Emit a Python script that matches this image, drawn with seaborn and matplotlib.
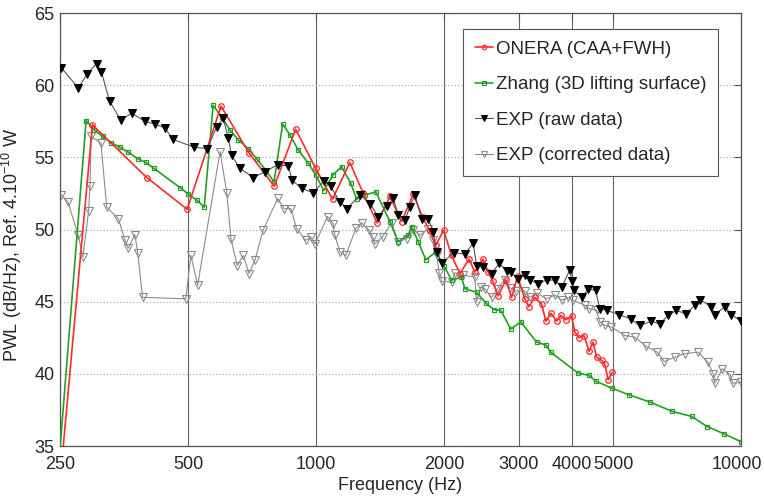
import matplotlib
matplotlib.use('Agg')
import matplotlib.pyplot as plt
import matplotlib.transforms as mtransforms
import seaborn as sns
from matplotlib.ticker import NullLocator

# ONERA (CAA+FWH)
onera_f = [250, 298, 400, 498, 598, 696, 798, 896, 998, 1094, 1202, 1292, 1394, 1493, 1591,
           1694, 1782, 1854, 1915, 1996, 2085, 2181, 2293, 2365, 2474, 2542, 2603, 2684, 2797, 2886,
           2981, 3100, 3170, 3270, 3394, 3475, 3570, 3681, 3769, 3872, 3994, 4065, 4161, 4275, 4390,
           4488, 4572, 4698, 4783, 4870, 4976]
onera_v = [32.5, 57.25, 53.6, 51.4, 58.55, 55.3, 53.0, 56.95, 54.25, 52.1, 54.65, 52.5, 50.45, 52.3, 50.55,
           52.45, 50.85, 49.9, 48.9, 49.95, 48.2, 46.95, 47.95, 47.05, 47.95, 47.05, 46.45, 45.4, 46.5, 45.3,
           46.75, 45.2, 44.65, 45.3, 44.85, 43.65, 44.2, 43.65, 44.05, 43.75, 44.0, 42.9, 42.5, 42.65, 41.55,
           42.2, 41.15, 40.95, 40.65, 39.6, 40.1]

# Zhang (3D lifting surface)
zhang_f = [250, 288, 301, 315, 330, 346, 362, 381, 398, 415, 479, 501, 524, 546, 573,
           600, 628, 657, 693, 726, 762, 797, 835, 869, 909, 959, 998, 1044, 1098, 1149,
           1208, 1247, 1304, 1384, 1493, 1561, 1648, 1679, 1740, 1814, 1915, 2000, 2085, 2200, 2241,
           2387, 2511, 2621, 2722, 2874, 3035, 3304, 3475, 3565, 4138, 4390, 4547, 4976, 5445, 6100,
           6886, 7650, 8322, 9112, 10000]
zhang_v = [34.8, 57.55, 56.9, 56.45, 56.0, 55.7, 55.35, 54.9, 54.65, 54.25, 52.9, 52.45, 52.05, 51.55, 58.6,
           57.8, 56.9, 56.2, 55.6, 54.9, 54.1, 53.3, 57.3, 56.55, 55.5, 54.6, 53.8, 52.7, 53.8, 54.35,
           53.2, 52.1, 52.4, 52.6, 50.55, 49.15, 49.6, 50.2, 49.15, 47.9, 48.45, 47.5, 46.5, 46.7, 45.9,
           45.65, 44.9, 44.45, 44.4, 43.1, 43.6, 42.2, 42.0, 41.5, 40.05, 39.9, 39.5, 39.0, 38.55, 38.05,
           37.4, 37.05, 36.35, 35.85, 35.3]

# EXP (raw data)
raw_f = [252, 276, 290, 305, 313, 327, 347, 369, 396, 418, 441, 460, 517, 555, 584,
         605, 622, 633, 662, 712, 759, 813, 861, 880, 925, 985, 1044, 1083, 1139, 1185,
         1269, 1340, 1401, 1466, 1520, 1561, 1620, 1663, 1709, 1773, 1837, 1887, 1923, 1978, 2110,
         2241, 2344, 2387, 2474, 2590, 2697, 2810, 2870, 2990, 3100, 3186, 3334, 3487, 3647, 3785,
         3957, 4010, 4045, 4216, 4369, 4547, 4656, 4826, 5170, 5506, 5780, 6157, 6440, 6737, 7050,
         7416, 7815, 8000, 8520, 8675, 9157, 9493, 10000]
raw_v = [61.2, 59.8, 60.8, 61.5, 60.9, 58.9, 57.6, 58.05, 57.5, 57.3, 57.05, 56.25, 55.7, 55.6, 57.1,
         57.7, 56.35, 55.15, 54.25, 53.6, 54.0, 54.5, 54.4, 53.4, 52.85, 52.55, 53.35, 53.0, 51.9, 51.45,
         52.4, 51.8, 50.9, 51.6, 52.15, 51.0, 50.65, 51.55, 52.4, 50.75, 50.75, 49.85, 48.45, 47.65, 48.4,
         48.3, 49.05, 47.5, 47.4, 46.95, 47.65, 47.15, 47.05, 46.6, 46.85, 46.5, 46.25, 46.5, 46.5, 46.0,
         47.2, 46.4, 45.8, 45.3, 45.85, 45.8, 44.5, 44.4, 44.1, 43.8, 43.35, 43.65, 43.45, 44.05, 44.4,
         44.15, 44.8, 45.15, 44.65, 44.1, 44.65, 44.1, 43.65]

# EXP (corrected data)
corr_f = [252, 261, 276, 283, 292, 294, 296, 312, 322, 343, 355, 362, 375, 381, 391,
          494, 508, 527, 595, 617, 631, 653, 675, 696, 719, 752, 813, 842, 873, 901,
          946, 973, 995, 1065, 1098, 1108, 1139, 1176, 1242, 1281, 1334, 1359, 1376, 1435, 1506,
          1561, 1634, 1694, 1756, 1837, 1887, 1923, 1950, 1978, 2085, 2123, 2214, 2365, 2387, 2440,
          2496, 2590, 2672, 2778, 2866, 2962, 3100, 3186, 3316, 3487, 3647, 3785, 3919, 4022, 4292,
          4400, 4572, 4656, 4783, 4950, 5337, 5620, 5985, 6355, 6600, 6980, 7370, 7935, 8360, 8610,
          8675, 9040, 9435, 9567, 10000]
corr_v = [52.4, 51.9, 49.6, 48.1, 51.3, 53.0, 56.45, 56.0, 51.55, 50.75, 49.3, 48.7, 49.65, 48.35, 45.3,
          45.2, 48.2, 46.15, 55.4, 52.55, 49.35, 47.5, 48.2, 46.95, 47.9, 50.0, 52.15, 51.45, 51.45, 50.05,
          49.25, 49.45, 49.0, 50.9, 50.4, 49.6, 48.45, 48.2, 50.1, 50.45, 49.95, 49.5, 49.0, 49.5, 50.45,
          49.15, 49.35, 50.0, 49.6, 50.05, 49.25, 48.2, 47.0, 46.4, 46.35, 47.0, 46.85, 46.7, 45.0, 46.0,
          45.9, 45.3, 45.9, 46.5, 45.95, 45.75, 45.75, 45.3, 45.6, 45.2, 45.45, 45.1, 45.3, 45.1, 44.75,
          44.5, 44.4, 43.6, 43.35, 43.25, 42.65, 42.55, 41.9, 41.5, 40.85, 41.15, 41.4, 41.5, 40.8, 40.0,
          39.35, 40.35, 39.95, 39.35, 39.4]

x_ticks = [250, 500, 1000, 2000, 3000, 4000, 5000, 10000]
y_ticks = [35, 40, 45, 50, 55, 60, 65]

sns.set_style('white')
plt.rcParams['font.family'] = ['Liberation Sans Narrow', 'Liberation Sans', 'DejaVu Sans']
plt.rcParams['mathtext.fontset'] = 'custom'
plt.rcParams['mathtext.rm'] = 'Liberation Sans Narrow'

fig = plt.figure(figsize=(7.64, 4.98), dpi=100)
ax = fig.add_axes([60 / 764, 52 / 498, 681 / 764, 433 / 498])

# series, drawn in legend order
sns.lineplot(x=onera_f, y=onera_v, ax=ax, estimator=None, sort=False, color='#ff2a2a',
             linewidth=1.2, marker='o', markersize=4, markerfacecolor='none',
             markeredgecolor='#ff2a2a', markeredgewidth=0.9, label='ONERA (CAA+FWH)', zorder=4)
sns.lineplot(x=zhang_f, y=zhang_v, ax=ax, estimator=None, sort=False, color='#22a022',
             linewidth=1.2, marker='s', markersize=3.5, markerfacecolor='none',
             markeredgecolor='#22a022', markeredgewidth=0.9, label='Zhang (3D lifting surface)', zorder=3)
sns.lineplot(x=raw_f, y=raw_v, ax=ax, estimator=None, sort=False, color='#555555',
             linewidth=0.8, marker='v', markersize=6, markerfacecolor='black',
             markeredgecolor='black', label='EXP (raw data)', zorder=5)
sns.lineplot(x=corr_f, y=corr_v, ax=ax, estimator=None, sort=False, color='#8c8c8c',
             linewidth=0.8, marker='v', markersize=6, markerfacecolor='none',
             markeredgecolor='#8c8c8c', markeredgewidth=0.8, label='EXP (corrected data)', zorder=2)

ax.set_xscale('log')
ax.set_xlim(250, 10000)
ax.set_ylim(35, 65)
ax.set_xticks(x_ticks)
ax.set_xticklabels([str(t) for t in x_ticks])
ax.xaxis.set_minor_locator(NullLocator())
ax.set_yticks(y_ticks)
ax.tick_params(direction='in', top=True, right=True, length=5, width=0.8,
               color='#555555', labelsize=13, pad=4)
ax.tick_params(axis='x', pad=7)

# keep the last x label inside the figure
last = ax.get_xticklabels()[-1]
last.set_transform(last.get_transform() + mtransforms.ScaledTranslation(-0.04, 0, fig.dpi_scale_trans))

# MATLAB-like grid: solid verticals, dotted horizontals
ax.grid(axis='x', color='#666666', linestyle='-', linewidth=0.8)
ax.grid(axis='y', color='#b0b0b0', linestyle=':', linewidth=0.9)
ax.set_axisbelow(True)
for s in ax.spines.values():
    s.set_color('#555555')
    s.set_linewidth(0.9)

ax.set_xlabel('Frequency (Hz)', fontsize=13, labelpad=3)
ax.set_ylabel(r'PWL (dB/Hz), Ref. 4.10$^{\mathregular{-10}}$ W', fontsize=13)
ax.yaxis.set_label_coords(-0.053, 0.465)

leg = ax.legend(loc='upper right', bbox_to_anchor=(0.966, 0.962), borderaxespad=0,
                fontsize=13.5, fancybox=False, framealpha=1, edgecolor='#555555',
                handlelength=1.0, handletextpad=0.15, labelspacing=0.98, borderpad=0.6,
                markerscale=0.8)
leg.get_frame().set_linewidth(0.8)

fig.savefig('out.png', dpi=100)
